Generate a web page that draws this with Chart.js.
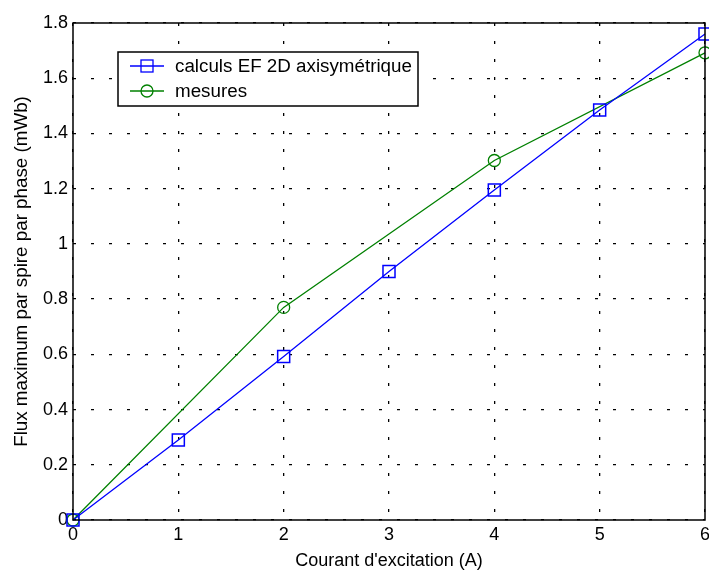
<!DOCTYPE html>
<html>
<head>
<meta charset="utf-8">
<script src="https://cdn.jsdelivr.net/npm/chart.js@4"></script>
<style>
  html, body { margin: 0; padding: 0; background: #fff; }
  #wrap { width: 709px; height: 572px; }
</style>
</head>
<body>
<div id="wrap"><canvas id="fluxChart" width="709" height="572"></canvas></div>
<script>
// courant d'excitation (A)
const courantCalc = [0, 1, 2, 3, 4, 5, 6];
const fluxCalc = [0, 0.29, 0.592, 0.9, 1.195, 1.485, 1.76];
const courantMes = [0, 2, 4, 6];
const fluxMes = [0, 0.77, 1.302, 1.692];
const xTicks = [0, 1, 2, 3, 4, 5, 6];
const yTicks = [0, 0.2, 0.4, 0.6, 0.8, 1, 1.2, 1.4, 1.6, 1.8];

const FONT = 'Liberation Sans, Arial, sans-serif';

function toPoints(xs, ys) {
    return xs.map((x, i) => ({ x: x, y: ys[i] }));
}

// box around the axes + legend inside the plot, matlab style
const boxPlugin = {
    id: 'boxPlugin',
    afterDatasetsDraw(chart) {
        const ctx = chart.ctx;
        const a = chart.chartArea;
        ctx.save();
        ctx.strokeStyle = '#000';
        ctx.lineWidth = 1.5;
        ctx.strokeRect(a.left, a.top, a.right - a.left, a.bottom - a.top);

        // legend
        const lx = 118, ly = 52, lw = 300, lh = 54;
        ctx.fillStyle = '#fff';
        ctx.fillRect(lx, ly, lw, lh);
        ctx.lineWidth = 1.5;
        ctx.strokeRect(lx, ly, lw, lh);
        ctx.font = '18.8px ' + FONT;
        ctx.textBaseline = 'middle';
        chart.data.datasets.forEach((ds, i) => {
            const y = ly + 14 + i * 25;
            ctx.strokeStyle = ds.borderColor;
            ctx.lineWidth = 1.3;
            ctx.beginPath();
            ctx.moveTo(lx + 12, y);
            ctx.lineTo(lx + 46, y);
            ctx.stroke();
            if (ds.pointStyle === 'rect') {
                ctx.strokeRect(lx + 23, y - 6, 12, 12);
            } else {
                ctx.beginPath();
                ctx.arc(lx + 29, y, 6, 0, Math.PI * 2);
                ctx.stroke();
            }
            ctx.fillStyle = '#000';
            ctx.fillText(ds.label, lx + 57, y + 1);
        });
        ctx.restore();
    }
};

const gridOpts = {
    color: '#000',
    lineWidth: 1.3,
    drawTicks: false
};

const ctx = document.getElementById('fluxChart').getContext('2d');
new Chart(ctx, {
    type: 'scatter',
    data: {
        datasets: [{
            label: 'calculs EF 2D axisymétrique',
            data: toPoints(courantCalc, fluxCalc),
            showLine: true,
            borderColor: '#0000ff',
            backgroundColor: 'rgba(0,0,0,0)',
            borderWidth: 1.3,
            pointStyle: 'rect',
            pointRadius: 8.5,
            pointBorderWidth: 1.5,
            clip: false
        }, {
            label: 'mesures',
            data: toPoints(courantMes, fluxMes),
            showLine: true,
            borderColor: '#008000',
            backgroundColor: 'rgba(0,0,0,0)',
            borderWidth: 1.3,
            pointStyle: 'circle',
            pointRadius: 6,
            pointBorderWidth: 1.3,
            clip: false
        }]
    },
    options: {
        responsive: false,
        animation: false,
        layout: {
            autoPadding: false,
            padding: { top: 23, right: 4, left: 0, bottom: 0 }
        },
        plugins: {
            legend: { display: false },
            tooltip: { enabled: false }
        },
        scales: {
            x: {
                type: 'linear',
                min: 0,
                max: 6,
                afterBuildTicks: (axis) => { axis.ticks = xTicks.map(v => ({ value: v })); },
                afterFit: (axis) => {
                    axis.height = 52;
                    axis.paddingLeft = 0;
                    axis.paddingRight = 0;
                },
                grid: gridOpts,
                border: { display: false, dash: [3, 15] },
                ticks: {
                    color: '#000',
                    padding: 4,
                    maxRotation: 0,
                    font: { family: FONT, size: 18 }
                },
                title: {
                    display: true,
                    text: "Courant d'excitation (A)",
                    color: '#000',
                    padding: { top: 0, bottom: 0 },
                    font: { family: FONT, size: 18 }
                }
            },
            y: {
                type: 'linear',
                min: 0,
                max: 1.8,
                afterBuildTicks: (axis) => { axis.ticks = yTicks.map(v => ({ value: v })); },
                afterFit: (axis) => { axis.width = 73; },
                grid: gridOpts,
                border: { display: false, dash: [3, 15] },
                ticks: {
                    color: '#000',
                    padding: 5,
                    font: { family: FONT, size: 18 },
                    callback: (v) => String(v)
                },
                title: {
                    display: true,
                    text: 'Flux maximum par spire par phase (mWb)',
                    color: '#000',
                    padding: { top: 11, bottom: 0 },
                    font: { family: FONT, size: 18.8 }
                }
            }
        }
    },
    plugins: [boxPlugin]
});
</script>
</body>
</html>
